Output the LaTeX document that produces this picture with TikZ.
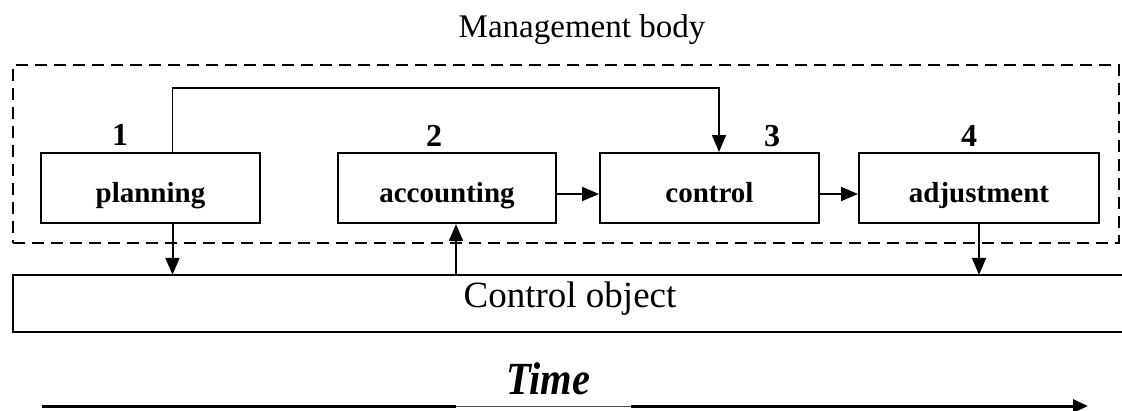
\documentclass[tikz,border=0pt]{standalone}
\usepackage{fontspec}
\setmainfont{Liberation Serif}
\usetikzlibrary{arrows.meta}
\begin{document}
\begin{tikzpicture}[x=1pt,y=-1pt,
  stagebox/.style={draw,line width=2pt,minimum height=70pt,inner sep=0pt,
    text height=28pt,text depth=0pt,font=\fontsize{29}{30}\selectfont\bfseries},
  num/.style={anchor=base,inner sep=0pt,font=\fontsize{32}{34}\selectfont\bfseries},
  arr/.style={line width=2pt,-{Triangle[length=17pt,width=14pt]}},
  frame/.style={draw,line width=2pt,dash pattern=on 12pt off 7pt,inner sep=0pt}
]
\useasboundingbox (0,0) rectangle (1122,410);

% management body frame
\node[frame,minimum width=1106pt,minimum height=178pt] (mb) at (566,154) {};
\node[anchor=base,inner sep=0pt,font=\fontsize{33}{35}\selectfont] (mbl) at (582,37) {Management body};

% stages
\node[stagebox,minimum width=219pt] (plan) at (150.5,188) {planning};
\node[stagebox,minimum width=218pt] (acc) at (447,188) {accounting};
\node[stagebox,minimum width=219pt] (ctl) at (709.5,188) {control};
\node[stagebox,minimum width=240pt] (adj) at (979,188) {adjustment};

\node[num] (n1) at (120,145) {1};
\node[num] (n2) at (434,146) {2};
\node[num] (n3) at (772,146) {3};
\node[num] (n4) at (969,146) {4};

% control object
\node[inner sep=0pt,minimum width=1117pt,minimum height=57pt] (obj) at (571.5,303.5) {};
\draw[line width=2pt] (obj.north east) -- (obj.north west) -- (obj.south west) -- (obj.south east);
\node[anchor=base,inner sep=0pt,font=\fontsize{37}{39}\selectfont] (objl) at (570,307) {Control object};

% connectors
\draw[arr,line width=1.5pt] ([xshift=22pt]plan.north) -- ++(0,-64) -| ([xshift=9.5pt]ctl.north);
\draw[arr] ([xshift=22pt]plan.south) -- ([xshift=22pt]plan.south |- obj.north);
\draw[arr] ([xshift=9pt]acc.south |- obj.north) -- ([xshift=9pt]acc.south);
\draw[arr] (adj.south) -- (adj.south |- obj.north);
\draw[arr] ([yshift=-6pt]acc.east) -- ([yshift=-6pt]ctl.west);
\draw[arr] ([yshift=-6pt]ctl.east) -- ([yshift=-6pt]adj.west);

% time axis
\coordinate (t0) at (42,406);
\coordinate (t1) at (456,406);
\coordinate (t2) at (631,406);
\coordinate (t3) at (1088,406);
\draw[line width=3pt] (t0) -- (t1);
\draw[line width=1pt,black!70] (t1) -- (t2);
\draw[line width=3pt,-{Triangle[length=15pt,width=13pt]}] (t2) -- (t3);
\node[anchor=base,inner sep=0pt,font=\fontsize{46}{48}\selectfont\bfseries\itshape\addfontfeature{FakeStretch=0.88}] (time) at (548,394) {Time};
\end{tikzpicture}
\end{document}
